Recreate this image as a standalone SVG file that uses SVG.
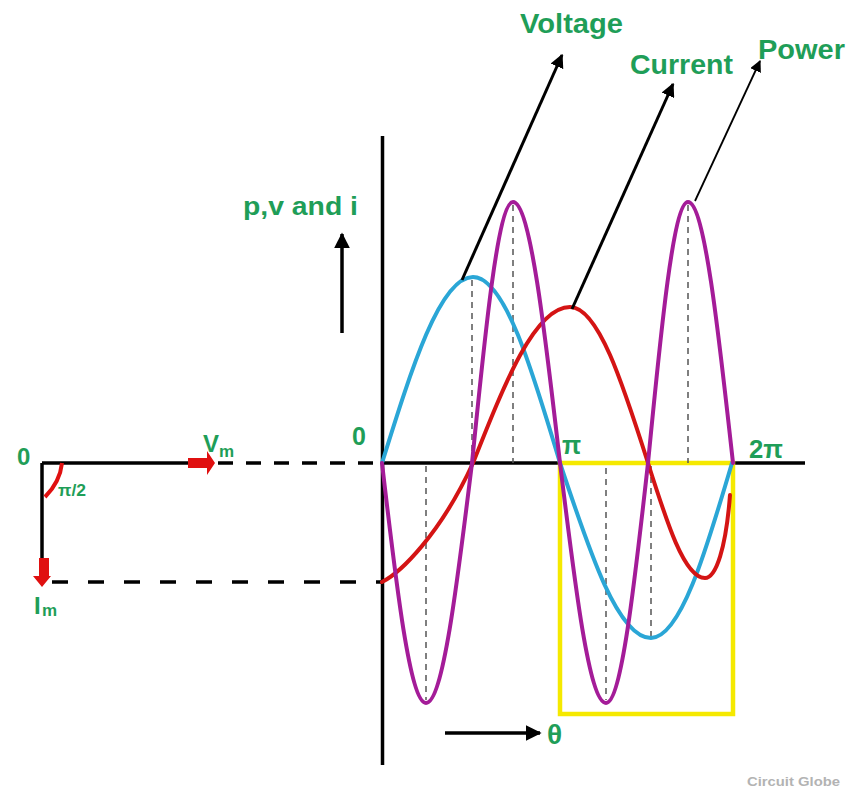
<svg xmlns="http://www.w3.org/2000/svg" width="858" height="793" viewBox="0 0 858 793">
<defs>
<style>
.lbl{font-family:"Liberation Sans","Open Sans",sans-serif;font-weight:bold;fill:#1f9e58}
.ax{stroke:#000;stroke-width:3.5;fill:none}
.dash{stroke:#555;stroke-width:1.5;stroke-dasharray:6 5;fill:none}
.crv{fill:none;stroke-width:4;stroke-linecap:round;stroke-linejoin:round}
</style>
<marker id="ah" viewBox="0 0 10 10" refX="9" refY="5" markerWidth="4.6" markerHeight="4.6" orient="auto" markerUnits="strokeWidth">
<path d="M0,0 L10,5 L0,10 Z" fill="#000"/>
</marker>
<marker id="ahs" viewBox="0 0 10 10" refX="9" refY="5" markerWidth="6.5" markerHeight="6.5" orient="auto" markerUnits="strokeWidth">
<path d="M0,0 L10,5 L0,10 Z" fill="#000"/>
</marker>
</defs>
<rect width="858" height="793" fill="#fff"/>

<g id="axes">
<line class="ax" x1="382.5" y1="136" x2="382.5" y2="765"/>
<line class="ax" x1="382" y1="463" x2="805" y2="463"/>
</g>

<g id="phasor">
<line class="ax" x1="42" y1="463" x2="192" y2="463"/>
<line class="ax" x1="42" y1="463" x2="42" y2="560"/>
<line x1="218" y1="463" x2="382" y2="463" stroke="#000" stroke-width="3.5" stroke-dasharray="15 13"/>
<line x1="52" y1="582" x2="382" y2="582" stroke="#000" stroke-width="3.5" stroke-dasharray="16 20"/>
<path d="M188,458 H207 V451 L215,463 L207,475 V468 H188 Z" fill="#e01010"/>
<path d="M39,558 H49 V576 H51 L42,587 L33,576 H39 Z" fill="#e01010"/>
<path d="M62,463 Q60,482 45,497" fill="none" stroke="#e01010" stroke-width="4"/>
<text class="lbl" x="17" y="465" font-size="24">0</text>
<text class="lbl" x="58" y="496" font-size="17" textLength="28" lengthAdjust="spacingAndGlyphs">π/2</text>
<text class="lbl" x="203" y="452" font-size="24">V</text>
<text class="lbl" x="219" y="457" font-size="17">m</text>
<text class="lbl" x="34" y="614" font-size="24">I</text>
<text class="lbl" x="42" y="616" font-size="17">m</text>
</g>

<g id="box">
<rect x="560" y="463" width="173" height="251" fill="none" stroke="#f5e900" stroke-width="4.5"/>
</g>

<g id="guides">
<line class="dash" x1="426" y1="466" x2="426" y2="700"/>
<line class="dash" x1="472" y1="280" x2="472" y2="463"/>
<line class="dash" x1="513" y1="205" x2="513" y2="463"/>
<line class="dash" x1="606" y1="468" x2="606" y2="700"/>
<line class="dash" x1="651" y1="466" x2="651" y2="636"/>
<line class="dash" x1="688" y1="205" x2="688" y2="463"/>
</g>

<g id="voltage-curve">
<path class="crv" stroke="#2aa6d6" d="M382,463 C411.7,367.8 440.1,277 473,277 C504.5,277 531.6,367.8 560,463 C589.7,552.6 618.1,638 651,638 C680.3,638 705.6,552.6 732,463"/>
</g>
<g id="current-curve">
<path class="crv" stroke="#d41414" d="M382,582 C400,573 440,535 473,463 C504.6,383.1 534.9,307 570,307 C598.2,307 622.6,383.1 648,463 C666.6,521.9 684.4,578 705,578 C716,578 726,548 730,495"/>
</g>
<g id="power-curve">
<path class="crv" stroke="#a41c98" d="M382,463 C396.3,585.9 410.1,703 426,703 C442.7,703 457,585.9 472,463 C485.4,329.4 498.2,202 513,202 C530,202 544.7,329.4 560,463 C575,585.9 589.3,703 606,703 C621.2,703 634.3,585.9 648,463 C661,329.4 673.5,202 688,202 C704.3,202 718.3,329.4 733,463"/>
</g>

<g id="connectors">
<line x1="462" y1="280" x2="562" y2="55" stroke="#000" stroke-width="3" marker-end="url(#ah)"/>
<line x1="572" y1="309" x2="673" y2="84" stroke="#000" stroke-width="3" marker-end="url(#ah)"/>
<line x1="695" y1="201" x2="760" y2="61" stroke="#000" stroke-width="1.8" marker-end="url(#ahs)"/>
<line x1="342" y1="333" x2="342" y2="234" stroke="#000" stroke-width="3.5" marker-end="url(#ah)"/>
<line x1="445" y1="733" x2="540" y2="733" stroke="#000" stroke-width="3.5" marker-end="url(#ah)"/>
</g>

<g id="labels">
<text class="lbl" x="520" y="33" font-size="27" textLength="103" lengthAdjust="spacingAndGlyphs">Voltage</text>
<text class="lbl" x="630" y="74" font-size="27" textLength="103" lengthAdjust="spacingAndGlyphs">Current</text>
<text class="lbl" x="758" y="59" font-size="27" textLength="87" lengthAdjust="spacingAndGlyphs">Power</text>
<text class="lbl" x="243" y="215" font-size="25" textLength="115" lengthAdjust="spacingAndGlyphs">p,v and i</text>
<text class="lbl" x="352" y="445" font-size="25">0</text>
<text class="lbl" x="562" y="454" font-size="25">π</text>
<text class="lbl" x="749" y="458" font-size="26" textLength="34" lengthAdjust="spacingAndGlyphs">2π</text>
<text class="lbl" x="547" y="744" font-size="28">θ</text>
<text x="747" y="786" font-family="Liberation Sans, Arial, sans-serif" font-weight="bold" font-size="13" fill="#b3b3b3" textLength="93" lengthAdjust="spacingAndGlyphs">Circuit Globe</text>
</g>
</svg>
